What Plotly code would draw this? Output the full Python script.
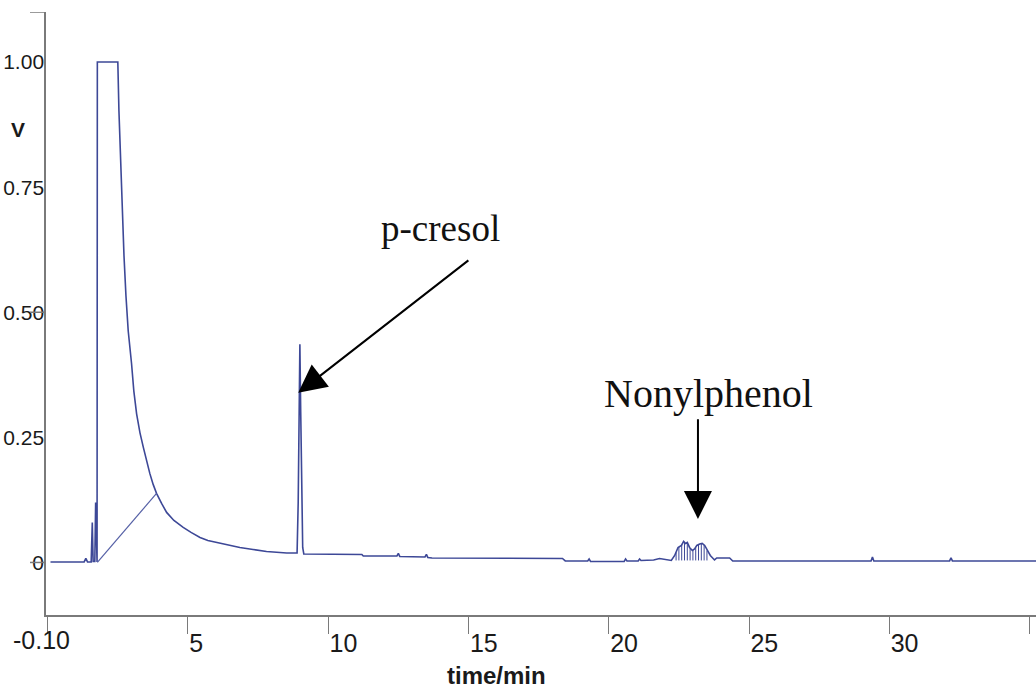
import plotly.graph_objects as go

# Chromatogram signal (time in min, detector response in V)
time_min = [
    0.10, 1.30, 1.36, 1.42, 1.55, 1.59, 1.62, 1.68, 1.71, 1.74, 1.76,
    1.77, 2.50, 2.54, 2.60, 2.66, 2.72, 2.79, 2.87, 2.99, 3.07, 3.17,
    3.29, 3.41, 3.52, 3.64, 3.76, 3.88, 4.06, 4.24, 4.50, 4.83, 5.11,
    5.43, 5.71, 6.02, 6.43, 6.85, 7.32, 7.80, 8.52, 8.89, 8.93, 8.96,
    8.99, 9.02, 9.05, 9.09, 9.13, 11.20, 11.25, 12.45, 12.50, 12.55,
    13.45, 13.50, 13.55, 13.70, 18.35, 18.45, 19.25, 19.30, 19.35, 20.55,
    20.60, 20.65, 21.05, 21.10, 21.15, 21.60, 21.81, 22.05, 22.23, 22.35,
    22.47, 22.59, 22.67, 22.74, 22.80, 22.88, 22.98, 23.06, 23.14, 23.24,
    23.33, 23.42, 23.51, 23.62, 23.77, 23.85, 24.31, 24.42, 29.35, 29.40,
    29.45, 32.15, 32.20, 32.25, 35.23,
]
signal_v = [
    0.001, 0.001, 0.008, 0.001, 0.001, 0.080, 0.002, 0.002, 0.120, 0.003, 0.001,
    1.000, 1.000, 0.902, 0.802, 0.703, 0.613, 0.533, 0.463, 0.397, 0.343, 0.297,
    0.259, 0.230, 0.202, 0.178, 0.156, 0.138, 0.118, 0.100, 0.084, 0.070, 0.060,
    0.050, 0.044, 0.040, 0.034, 0.030, 0.026, 0.022, 0.019, 0.019, 0.120, 0.300,
    0.436, 0.300, 0.120, 0.030, 0.017, 0.016, 0.013, 0.013, 0.018, 0.012,
    0.011, 0.016, 0.010, 0.009, 0.008, 0.003, 0.003, 0.007, 0.002, 0.002,
    0.007, 0.003, 0.003, 0.007, 0.004, 0.005, 0.008, 0.005, 0.004, 0.014,
    0.030, 0.034, 0.042, 0.038, 0.040, 0.030, 0.024, 0.027, 0.034, 0.037,
    0.038, 0.034, 0.024, 0.014, 0.005, 0.009, 0.009, 0.003, 0.003, 0.011,
    0.003, 0.003, 0.009, 0.003, 0.003,
]

# Integration baseline under the solvent peak
solvent_base_t = [1.77, 3.88]
solvent_base_v = [0.000, 0.138]

# Peak-slicing drop lines in the nonylphenol cluster
drop_t = [22.40, 22.50, 22.60, 22.70, 22.80, 22.90, 23.00, 23.10, 23.20, 23.30, 23.40, 23.50]
drop_top = [0.020, 0.031, 0.035, 0.040, 0.039, 0.028, 0.025, 0.030, 0.036, 0.038, 0.035, 0.024]
drop_floor = 0.004

x_ticks = [0, 5, 10, 15, 20, 25, 30, 35]
x_tick_text = ["", "5", "10", "15", "20", "25", "30", ""]
y_ticks = [0, 0.25, 0.50, 0.75, 1.00]
y_tick_text = ["0", "0.25", "0.50", "0.75", "1.00"]
y_marks = [1.10, 0.50, 0.0]

x_range = [-0.06, 35.23]
y_range = [-0.105, 1.10]

LINE = "#3d4897"
AXIS = "#7a7a7a"
SANS = "Liberation Sans, Arial, sans-serif"
SERIF = "Liberation Serif, Times New Roman, serif"

fig = go.Figure()

fig.add_trace(go.Scatter(
    x=time_min, y=signal_v, mode="lines",
    line=dict(color=LINE, width=1.6), hoverinfo="skip", showlegend=False,
))
fig.add_trace(go.Scatter(
    x=solvent_base_t, y=solvent_base_v, mode="lines",
    line=dict(color="#5560a6", width=1.2), hoverinfo="skip", showlegend=False,
))

drop_x, drop_y = [], []
for t, top in zip(drop_t, drop_top):
    drop_x += [t, t, None]
    drop_y += [drop_floor, top, None]
fig.add_trace(go.Scatter(
    x=drop_x, y=drop_y, mode="lines",
    line=dict(color=LINE, width=1.0), hoverinfo="skip", showlegend=False,
))

# Short tick marks on the value axis
shapes = []
for yv in y_marks:
    shapes.append(dict(
        type="line", xref="paper", yref="y", xsizemode="pixel", xanchor=0,
        x0=-16, x1=0, y0=yv, y1=yv, line=dict(color=AXIS, width=1.5),
    ))

annotations = [
    # arrows pointing at the peaks
    dict(x=8.93, y=0.339, xref="x", yref="y", ax=15.05, ay=0.606, axref="x", ayref="y",
         text="", showarrow=True, arrowhead=2, arrowsize=2.8, arrowwidth=2,
         arrowcolor="#000000", standoff=0),
    dict(x=23.18, y=0.087, xref="x", yref="y", ax=23.18, ay=0.289, axref="x", ayref="y",
         text="", showarrow=True, arrowhead=2, arrowsize=2.8, arrowwidth=2,
         arrowcolor="#000000", standoff=0),
    # peak names
    dict(x=13.99, y=0.668, xref="x", yref="y", text="p-cresol", showarrow=False,
         xanchor="center", yanchor="middle",
         font=dict(family=SERIF, size=37, color="#111111")),
    dict(x=23.54, y=0.337, xref="x", yref="y", text="Nonylphenol", showarrow=False,
         xanchor="center", yanchor="middle",
         font=dict(family=SERIF, size=40, color="#111111")),
    # axis labels
    dict(x=0, y=0.865, xref="paper", yref="y", xshift=-28, text="<b>V</b>",
         xanchor="center", yanchor="middle", showarrow=False,
         font=dict(family=SANS, size=21, color="#1a1a1a")),
    dict(x=0, y=0, xref="paper", yref="paper", xshift=-5, yshift=-25, text="-0.10",
         xanchor="center", yanchor="middle", showarrow=False,
         font=dict(family=SANS, size=25, color="#1a1a1a")),
    dict(x=16.0, y=0, xref="x", yref="paper", yshift=-60, text="<b>time/min</b>",
         xanchor="center", yanchor="middle", showarrow=False,
         font=dict(family=SANS, size=24, color="#1a1a1a")),
]

fig.update_layout(
    width=1036, height=689,
    margin=dict(l=46, r=0, t=12, b=74),
    paper_bgcolor="white", plot_bgcolor="white",
    shapes=shapes, annotations=annotations,
    xaxis=dict(
        range=x_range, tickvals=x_ticks, ticktext=x_tick_text,
        ticks="outside", ticklen=17, tickwidth=1.3, tickcolor=AXIS,
        ticklabelposition="outside right", ticklabelstandoff=5,
        showline=True, linecolor=AXIS, linewidth=1.5,
        showgrid=False, zeroline=False,
        tickfont=dict(family=SANS, size=25, color="#1a1a1a"),
    ),
    yaxis=dict(
        range=y_range, tickvals=y_ticks, ticktext=y_tick_text,
        ticks="", ticklabelstandoff=-4,
        showline=True, linecolor=AXIS, linewidth=1.5,
        showgrid=False, zeroline=False,
        tickfont=dict(family=SANS, size=21, color="#1a1a1a"),
    ),
)

fig.write_html("out.html")
